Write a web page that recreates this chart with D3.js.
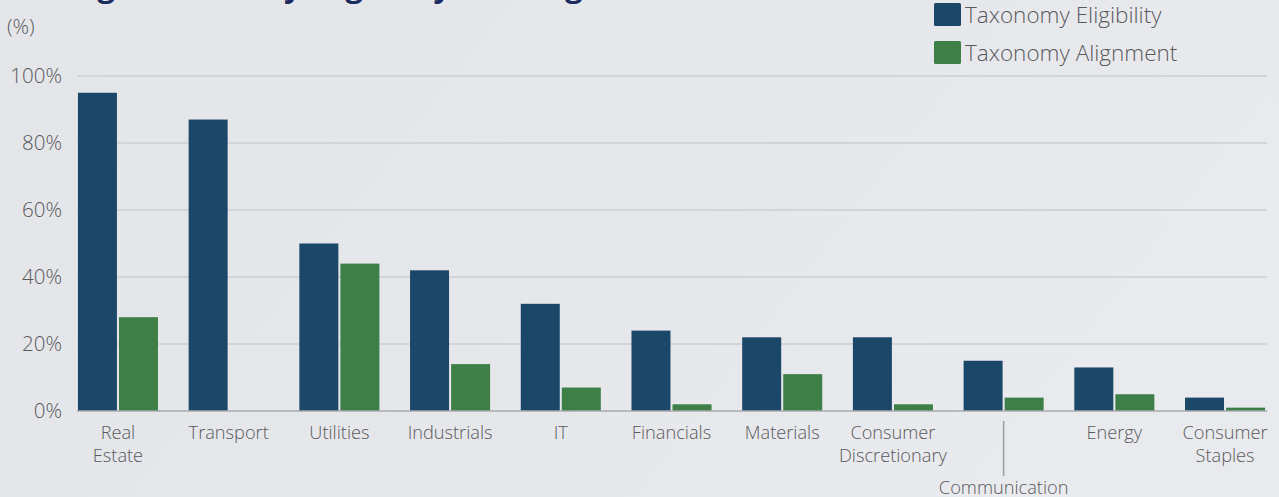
<!DOCTYPE html>
<html>
<head>
<meta charset="utf-8">
<script src="https://cdn.jsdelivr.net/npm/d3@7"></script>
<style>
  html, body { margin: 0; padding: 0; overflow: hidden; }
  body { width: 1279px; height: 497px; font-family: "Open Sans", sans-serif; }
  svg { display: block; }
</style>
</head>
<body>
<svg id="chart" width="1279" height="497"></svg>
<script>
// Data
var sectors = [
  ["Real", "Estate"], ["Transport"], ["Utilities"], ["Industrials"], ["IT"],
  ["Financials"], ["Materials"], ["Consumer", "Discretionary"], ["Communication"],
  ["Energy"], ["Consumer", "Staples"]
]
var eligibility = [95, 87, 50, 42, 32, 24, 22, 22, 15, 13, 4]
var alignment = [28, 0, 44, 14, 7, 2, 11, 2, 4, 5, 1]
var seriesNames = ["Taxonomy Eligibility", "Taxonomy Alignment"]
var seriesColors = ["#1b4769", "#3e7f47"]
var yTicks = [0, 20, 40, 60, 80, 100]

var svg = d3.select("#chart")
var W = 1279, H = 497
var textColor = "#58595c"

// Background with faint gradient
var defs = svg.append("defs")
var grad = defs.append("linearGradient").attr("id", "bg")
  .attr("x1", 0).attr("y1", 0).attr("x2", 1).attr("y2", 0.3)
grad.append("stop").attr("offset", "0%").attr("stop-color", "#e4e5e9")
grad.append("stop").attr("offset", "60%").attr("stop-color", "#e6e7eb")
grad.append("stop").attr("offset", "100%").attr("stop-color", "#e9eaed")
svg.append("rect").attr("width", W).attr("height", H).attr("fill", "url(#bg)")

// Title, mostly cut off at the top edge
svg.append("text")
  .attr("x", 8).attr("y", -3)
  .style("font-family", "'Open Sans', sans-serif")
  .style("font-size", "30.8px")
  .style("font-weight", "700")
  .attr("fill", "#1c2b5f")
  .text("Average Taxonomy Eligibility and Alignment")

var keys = sectors.map(function(d) { return d.join(" ") })
var data = keys.map(function(k, i) {
  return { key: k, lines: sectors[i], values: [eligibility[i], alignment[i]] }
})

var x0 = d3.scaleBand().domain(keys).range([62.6, 1280.4])
  .paddingInner(0.277).paddingOuter(0.1385)
var x1 = d3.scaleBand().domain([0, 1]).range([0, x0.bandwidth()]).paddingInner(0.05)
var y = d3.scaleLinear().domain([0, 100]).range([411, 76])

var gridLeft = 77, gridRight = 1267

// Gridlines
svg.append("g").selectAll("line")
  .data(yTicks.filter(function(t) { return t > 0 }))
  .enter().append("line")
  .attr("x1", gridLeft).attr("x2", gridRight)
  .attr("y1", function(d) { return y(d) }).attr("y2", function(d) { return y(d) })
  .attr("stroke", "#cdced3").attr("stroke-width", 1.5)

// Y tick labels
svg.append("g").selectAll("text")
  .data(yTicks)
  .enter().append("text")
  .attr("x", 62).attr("y", function(d) { return y(d) })
  .attr("dy", "0.36em")
  .attr("text-anchor", "end")
  .style("font-size", "20.5px")
  .style("font-weight", "300")
  .attr("fill", textColor)
  .text(function(d) { return d + "%" })

svg.append("text")
  .attr("x", 7).attr("y", 34)
  .style("font-size", "20.5px")
  .style("font-weight", "300")
  .attr("fill", textColor)
  .text("(%)")

// Bars
var groups = svg.append("g").selectAll("g")
  .data(data)
  .enter().append("g")
  .attr("transform", function(d) { return "translate(" + x0(d.key) + ",0)" })

groups.selectAll("rect")
  .data(function(d) { return d.values.map(function(v, i) { return { i: i, v: v } }) })
  .enter().append("rect")
  .filter(function(d) { return d.v > 0 })
  .attr("x", function(d) { return x1(d.i) })
  .attr("width", x1.bandwidth())
  .attr("y", function(d) { return y(d.v) })
  .attr("height", function(d) { return y(0) - y(d.v) })
  .attr("fill", function(d) { return seriesColors[d.i] })

// Baseline
svg.append("line")
  .attr("x1", gridLeft).attr("x2", gridRight)
  .attr("y1", y(0)).attr("y2", y(0))
  .attr("stroke", "#a9aaae").attr("stroke-width", 1.5)

// Category labels
var labels = svg.append("g").selectAll("text")
  .data(data)
  .enter().append("text")
  .attr("text-anchor", "middle")
  .style("font-size", "18.2px")
  .style("font-weight", "300")
  .attr("fill", textColor)
  .attr("transform", function(d) {
    var cx = x0(d.key) + x0.bandwidth() / 2
    var yy = d.key === "Communication" ? 494 : 439
    return "translate(" + cx + "," + yy + ")"
  })

labels.selectAll("tspan")
  .data(function(d) { return d.lines })
  .enter().append("tspan")
  .attr("x", 0)
  .attr("dy", function(d, i) { return i === 0 ? 0 : 22.5 })
  .text(function(d) { return d })

// Leader line for the offset Communication label
var commX = x0("Communication") + x0.bandwidth() / 2
svg.append("line")
  .attr("x1", commX).attr("x2", commX)
  .attr("y1", 421).attr("y2", 476)
  .attr("stroke", "#9d9ea2").attr("stroke-width", 1.5)

// Legend
var legend = svg.append("g").selectAll("g")
  .data(seriesNames)
  .enter().append("g")
  .attr("transform", function(d, i) { return "translate(934," + (3 + i * 38) + ")" })

legend.append("rect")
  .attr("width", 27).attr("height", 23)
  .attr("rx", 1.5)
  .attr("fill", function(d, i) { return seriesColors[i] })

legend.append("text")
  .attr("x", 31).attr("y", 20)
  .style("font-size", "22.5px")
  .style("font-weight", "300")
  .attr("fill", textColor)
  .text(function(d) { return d })
</script>
</body>
</html>
